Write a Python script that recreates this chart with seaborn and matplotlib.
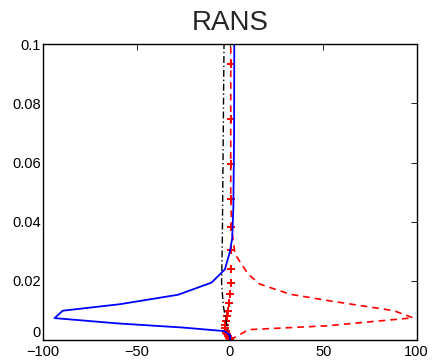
import matplotlib
matplotlib.use("Agg")
import matplotlib.pyplot as plt
import seaborn as sns
import pandas as pd

# Blue solid profile
blue_x = [0.0, 0.2, -3.0, -25.0, -60.0, -94.0, -89.6, -59.0, -27.8, -9.9, -2.7, 0.0, 1.2, 1.8, 2.2, 2.3]
blue_y = [0.0, 0.0015, 0.0030, 0.0042, 0.0056, 0.0074, 0.0099, 0.0121, 0.0153, 0.0194, 0.0239, 0.0300, 0.0345, 0.0450, 0.0700, 0.1000]

# Red dashed profile
red_x = [0.0, 10.0, 52.0, 98.0, 87.8, 53.8, 32.0, 16.0, 9.8, 2.7, 0.9, 0.4, 0.4]
red_y = [0.0, 0.0035, 0.0048, 0.0075, 0.0099, 0.0132, 0.0155, 0.0189, 0.0222, 0.0290, 0.0374, 0.0500, 0.1000]

# Black dash-dot profile
black_x = [0.0, -0.9, -2.3, -3.6, -4.5, -4.1, -3.2]
black_y = [0.0, 0.0026, 0.0071, 0.0116, 0.0194, 0.0340, 0.1000]

# Red "+" samples
plus_x = [0.5, 0.5, 0.5, 0.5, 0.5, 0.5, 0.5, 0.3, 0.0, -0.5, -1.2, -1.8, -2.3, -2.5, -2.5, -2.3, -2.0, -1.5, -1.0, -0.5, 0.0]
plus_y = [0.0933, 0.0747, 0.0596, 0.0477, 0.0383, 0.0306, 0.0241, 0.0194, 0.0155, 0.0124, 0.0099, 0.0080, 0.0065, 0.0052, 0.0041, 0.0032, 0.0025, 0.0019, 0.0013, 0.0007, 0.0002]

x_ticks = [-100, -50, 0, 50, 100]
y_ticks = [0, 0.02, 0.04, 0.06, 0.08, 0.1]
y_labels = ["0", "0.02", "0.04", "0.06", "0.08", "0.1"]

sns.set_style("white")
plt.rcParams["font.family"] = ["Liberation Sans", "DejaVu Sans"]

fig = plt.figure(figsize=(4.33, 3.61), dpi=100)
ax = fig.add_axes([0.1, 0.0582, 0.8623, 0.8191])

df_b = pd.DataFrame({"x": blue_x, "y": blue_y})
df_r = pd.DataFrame({"x": red_x, "y": red_y})
df_k = pd.DataFrame({"x": black_x, "y": black_y})
df_p = pd.DataFrame({"x": plus_x, "y": plus_y})

sns.lineplot(data=df_k, x="x", y="y", sort=False, estimator=None, ax=ax,
             color="black", linestyle=(0, (5, 2, 1, 2)), linewidth=1.0)
sns.lineplot(data=df_r, x="x", y="y", sort=False, estimator=None, ax=ax,
             color="red", linestyle=(0, (4, 3)), linewidth=1.2)
sns.scatterplot(data=df_p, x="x", y="y", ax=ax, marker="+", color="red",
                s=30, linewidth=1.4)
sns.lineplot(data=df_b, x="x", y="y", sort=False, estimator=None, ax=ax,
             color="blue", linewidth=1.3)

ax.set_xlim(-100, 100)
ax.set_ylim(0, 0.1)
ax.set_xticks(x_ticks)
ax.set_xticklabels(["\u2212100", "\u221250", "0", "50", "100"])
ax.set_yticks(y_ticks)
ax.set_yticklabels(y_labels)
ax.set_xlabel("")
ax.set_ylabel("")
ax.tick_params(direction="in", length=4, width=0.6, top=True, right=True,
               labelsize=10.5, pad=2, colors="black")
ax.tick_params(axis="x", pad=3.5)
ax.get_yticklabels()[0].set_verticalalignment("bottom")
for s in ax.spines.values():
    s.set_color("black")
    s.set_linewidth(1.0)
ax.set_title("RANS", fontsize=20, pad=10)

fig.savefig("out.png", dpi=100)
